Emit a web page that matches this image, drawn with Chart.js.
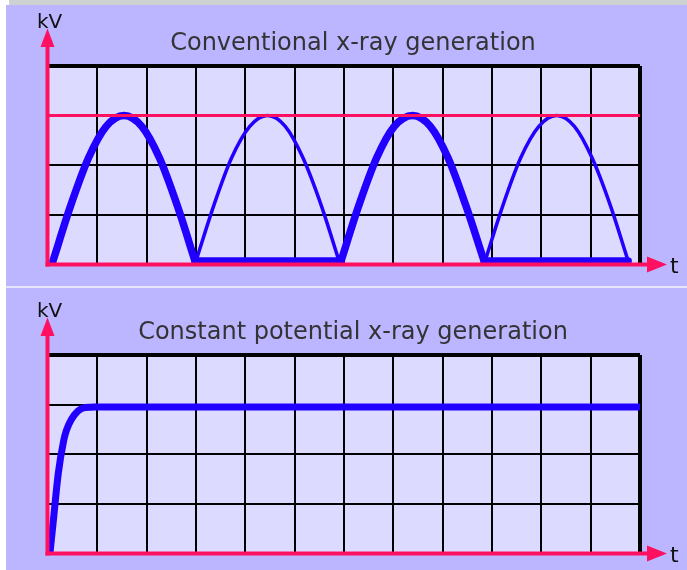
<!DOCTYPE html>
<html><head><meta charset="utf-8">
<script src="https://cdn.jsdelivr.net/npm/chart.js@4.4.0/dist/chart.umd.min.js"></script>
<style>
html,body{margin:0;padding:0;background:#fff;width:687px;height:570px;overflow:hidden;position:relative;}
.pan{position:absolute;left:6px;width:681px;background:#BCB5FF;}
#p1{top:0;height:285px;}
#p2{top:289px;height:281px;}
#sep{position:absolute;left:6px;top:285px;width:681px;height:4px;background:#BCB5FF;}
#sepl{position:absolute;left:6px;top:286px;width:681px;height:2px;background:#E6E4FF;}
#topw{position:absolute;left:6px;top:0;width:681px;height:5px;background:#fff;}
#topg{position:absolute;left:9px;top:0;width:678px;height:5px;background:#CDD1D1;}
canvas{display:block;}
</style></head><body>
<div class="pan" id="p1"><canvas id="c1" width="681" height="285"></canvas></div>
<div id="sep"></div><div id="sepl"></div>
<div class="pan" id="p2"><canvas id="c2" width="681" height="281"></canvas></div>
<div id="topw"></div><div id="topg"></div>
<script>
// ---- data ----
const titles = ['Conventional x-ray generation', 'Constant potential x-ray generation'];
const yLabel = 'kV';
const xLabel = 't';
const xMin = 0, xMax = 12;   // grid columns
const yMin = 0, yMax = 4;    // grid rows

// peak kV reference line (top chart)
const peakX = [0, 12];
const peakY = [3, 3];

// thick humps (conventional, top chart)
const thickHumpX = [0.10,0.46,0.82,1.18,1.54,1.90,2.26,2.62,2.98, 4.5, 5.94,6.30,6.66,7.02,7.39,7.75,8.11,8.47,8.84];
const thickHumpY = [0.06,1.18,2.14,2.78,3.00,2.78,2.14,1.18,0.06, null, 0.06,1.18,2.14,2.78,3.00,2.78,2.14,1.18,0.06];
// thick flat segments at base
const thickBaseX = [2.98, 5.94, 7.4, 8.84, 11.76];
const thickBaseY = [0.06, 0.06, null, 0.06, 0.06];
// thin humps
const thinX = [3.00,3.36,3.72,4.09,4.45,4.81,5.17,5.54,5.90, 7.4, 8.86,9.22,9.58,9.95,10.31,10.67,11.03,11.40,11.76];
const thinY = [0.06,1.18,2.14,2.78,3.00,2.78,2.14,1.18,0.06, null, 0.06,1.18,2.14,2.78,3.00,2.78,2.14,1.18,0.06];

// constant potential curve (bottom chart)
const cpX = [0.04, 0.11, 0.21, 0.32, 0.375, 0.47, 0.61, 0.75, 0.95, 12];
const cpY = [0.00, 0.67, 1.62, 2.28, 2.48, 2.69, 2.87, 2.94, 2.95, 2.95];

// ---- styles ----
const RED = '#FF1060';
const BLUE = '#2200FF';
const GRID_BG = '#DDDAFF';

const pts = (xs, ys) => xs.map((x, i) => ({x: x, y: ys[i]}));

function lineDs(xs, ys, width, color, mono) {
  return {
    data: pts(xs, ys), borderColor: color, borderWidth: width, pointRadius: 0,
    fill: false, cubicInterpolationMode: mono ? 'monotone' : 'default', tension: 0,
    borderCapStyle: 'round', borderJoinStyle: 'round', spanGaps: false
  };
}

function panelPlugin(title) {
  return {
    id: 'panel',
    beforeDraw(chart) {
      const {ctx, chartArea: a} = chart;
      ctx.save();
      ctx.fillStyle = GRID_BG;
      ctx.fillRect(a.left, a.top, a.right - a.left, a.bottom - a.top);
      ctx.restore();
    },
    afterDraw(chart) {
      const {ctx, chartArea: a} = chart;
      const x0 = a.left - 0.5, y0 = a.bottom + 0.5;
      ctx.save();
      ctx.strokeStyle = RED; ctx.fillStyle = RED; ctx.lineWidth = 4;
      ctx.beginPath(); ctx.moveTo(x0, y0 + 2); ctx.lineTo(x0, 44); ctx.stroke();
      ctx.beginPath(); ctx.moveTo(x0, 28.5); ctx.lineTo(x0 - 7, 47); ctx.lineTo(x0 + 7, 47); ctx.closePath(); ctx.fill();
      ctx.beginPath(); ctx.moveTo(x0 - 2, y0); ctx.lineTo(a.right + 9, y0); ctx.stroke();
      ctx.beginPath(); ctx.moveTo(a.right + 27, y0); ctx.lineTo(a.right + 7, y0 - 8); ctx.lineTo(a.right + 7, y0 + 8); ctx.closePath(); ctx.fill();
      ctx.textBaseline = 'alphabetic'; ctx.textAlign = 'left';
      ctx.fillStyle = '#111';
      ctx.font = '20px "DejaVu Sans"';
      ctx.fillText(yLabel, 31, 28);
      ctx.font = '22px "DejaVu Sans"';
      ctx.fillText(xLabel, a.right + 30, y0 + 8.5);
      ctx.fillStyle = '#333';
      ctx.font = '24px "DejaVu Sans"';
      ctx.textAlign = 'center';
      ctx.fillText(title, 347, 50);
      ctx.restore();
    }
  };
}

function makeOptions(padBottom) {
  return {
    responsive: false, animation: false, devicePixelRatio: 1,
    layout: {padding: {left: 42, right: 47, top: 66, bottom: padBottom}},
    plugins: {legend: {display: false}, tooltip: {enabled: false}, title: {display: false}},
    scales: {
      x: {type: 'linear', min: xMin, max: xMax,
          ticks: {display: false, stepSize: 1, maxTicksLimit: 30},
          grid: {color: '#000', lineWidth: (c) => c.index === 12 ? 4 : 2, drawTicks: false},
          border: {display: false}},
      y: {type: 'linear', min: yMin, max: yMax,
          ticks: {display: false, stepSize: 1, maxTicksLimit: 30},
          grid: {color: '#000', lineWidth: (c) => c.index === 4 ? 4 : 2, drawTicks: false},
          border: {display: false}}
    }
  };
}

new Chart(document.getElementById('c1'), {
  type: 'line',
  data: {datasets: [
    lineDs(peakX, peakY, 3, RED, false),
    lineDs(thickHumpX, thickHumpY, 7.5, BLUE, true),
    lineDs(thickBaseX, thickBaseY, 7.5, BLUE, false),
    lineDs(thinX, thinY, 3.5, BLUE, true)
  ]},
  options: makeOptions(21),
  plugins: [panelPlugin(titles[0])]
});

new Chart(document.getElementById('c2'), {
  type: 'line',
  data: {datasets: [
    lineDs(cpX, cpY, 7, BLUE, true)
  ]},
  options: makeOptions(17),
  plugins: [panelPlugin(titles[1])]
});
</script>
</body></html>
